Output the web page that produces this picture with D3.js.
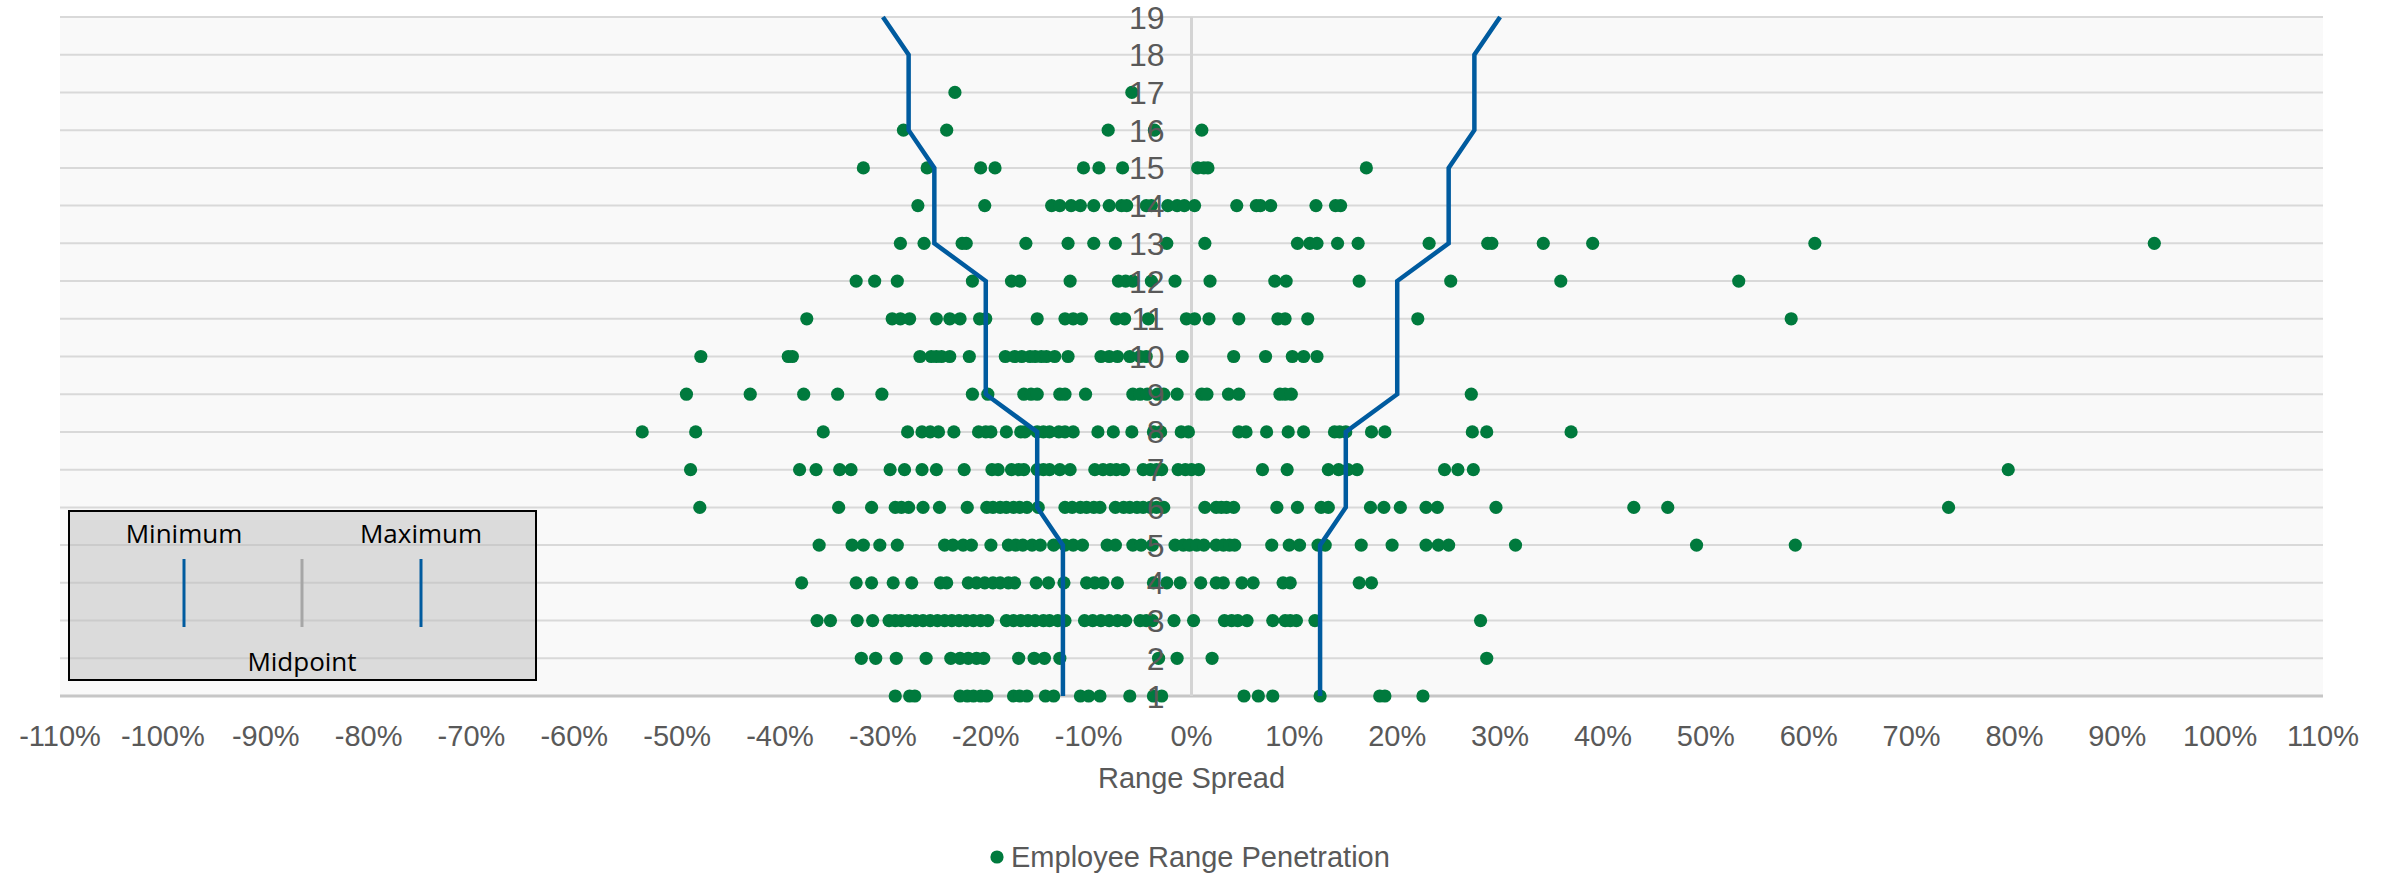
<!DOCTYPE html>
<html>
<head>
<meta charset="utf-8">
<script src="https://cdn.jsdelivr.net/npm/d3@7"></script>
<style>
  body { margin: 0; background: #fff; }
  text { font-family: "Liberation Sans", Arial, sans-serif; }
</style>
</head>
<body>
<div id="chart"></div>
<script>
// grades on the y axis
const grades = [1,2,3,4,5,6,7,8,9,10,11,12,13,14,15,16,17,18,19];

// range minimum / maximum spread per grade (%)
const rangeMin = [-12.5,-12.5,-12.5,-12.5,-12.5,-15,-15,-15,-20,-20,-20,-20,-25,-25,-25,-27.5,-27.5,-27.5,-30];
const rangeMax = [12.5,12.5,12.5,12.5,12.5,15,15,15,20,20,20,20,25,25,25,27.5,27.5,27.5,30];

// employee range penetration (%) by grade
const pen1 = [-28.8,-27.4,-26.9,-22.5,-21.8,-21.2,-20.5,-19.9,-17.3,-16.7,-16.0,-14.2,-13.4,-10.8,-10.0,-8.9,-6.0,-3.7,-2.9,5.1,6.5,7.9,12.5,18.3,18.8,22.5];
const pen2 = [-32.1,-30.7,-28.7,-25.8,-23.4,-22.5,-21.7,-20.9,-20.2,-16.8,-15.3,-14.3,-12.8,-3.2,-1.4,2.0,28.7];
const pen3 = [-36.4,-35.1,-32.5,-31.0,-29.4,-28.8,-28.2,-27.5,-26.8,-26.1,-25.4,-24.7,-24.0,-23.3,-22.6,-21.9,-21.2,-20.5,-19.8,-18.0,-17.3,-16.6,-15.9,-15.2,-14.4,-13.8,-13.0,-12.3,-10.4,-9.6,-8.8,-8.0,-7.2,-6.4,-5.0,-4.4,-3.8,-1.7,0.2,3.2,3.9,4.5,5.4,7.9,9.1,9.6,10.2,12.0,28.1];
const pen4 = [-37.9,-32.6,-31.1,-29.0,-27.2,-24.4,-23.8,-21.7,-20.9,-20.1,-19.3,-18.6,-17.8,-17.2,-15.1,-13.9,-12.4,-10.2,-9.4,-8.6,-7.2,-3.7,-2.4,-1.1,0.9,2.4,3.1,4.9,6.0,8.9,9.6,16.3,17.5];
const pen5 = [-36.2,-33.0,-31.9,-30.3,-28.6,-24.0,-23.2,-22.2,-21.4,-19.5,-17.8,-17.1,-16.4,-15.5,-14.7,-13.4,-12.3,-11.5,-10.6,-8.2,-7.4,-5.7,-4.9,-3.8,-1.6,-0.8,-0.2,0.5,1.2,2.4,3.1,3.7,4.2,7.8,9.5,10.5,12.3,13.0,16.5,19.5,22.8,24.0,25.0,31.5,49.1,58.7];
const pen6 = [-47.8,-34.3,-31.1,-28.8,-28.2,-27.5,-26.1,-24.5,-21.8,-19.9,-19.3,-18.6,-18.0,-17.3,-16.7,-16.0,-14.9,-12.3,-11.6,-10.8,-10.2,-9.5,-8.9,-7.4,-6.6,-6.0,-5.3,-4.7,-4.0,-3.4,-2.7,1.3,2.4,2.9,3.4,4.1,8.3,10.3,12.6,13.3,17.4,18.7,20.3,22.8,23.9,29.6,43.0,46.3,73.6];
const pen7 = [-48.7,-38.1,-36.5,-34.2,-33.1,-29.3,-27.9,-26.2,-24.8,-22.1,-19.4,-18.8,-17.5,-16.8,-16.3,-15.0,-14.4,-13.8,-12.8,-11.8,-9.4,-8.6,-7.9,-7.3,-6.6,-4.7,-4.0,-3.4,-2.9,-1.3,-0.6,0.0,0.7,6.9,9.3,13.3,14.3,15.2,16.1,24.6,25.9,27.4,79.4];
const pen8 = [-53.4,-48.2,-35.8,-27.6,-26.2,-25.4,-24.6,-23.1,-20.7,-20.0,-19.5,-18.0,-16.6,-16.2,-15.0,-14.4,-13.8,-12.9,-12.3,-11.5,-9.1,-7.6,-5.8,-3.7,-3.0,-1.0,-0.3,4.6,5.3,7.3,9.4,10.9,13.9,14.4,15.0,17.5,18.8,27.3,28.7,36.9];
const pen9 = [-49.1,-42.9,-37.7,-34.4,-30.1,-21.3,-19.8,-16.3,-15.6,-15.0,-12.8,-12.3,-10.3,-5.7,-5.0,-4.3,-3.3,-2.7,-1.4,1.0,1.5,3.6,4.6,8.6,9.1,9.7,27.2];
const pen10 = [-47.7,-39.2,-38.8,-26.4,-25.3,-24.8,-24.3,-23.5,-21.6,-18.1,-17.2,-16.5,-15.7,-15.2,-14.6,-14.1,-13.3,-12.0,-8.8,-8.0,-7.2,-6.0,-5.0,-4.4,-0.9,4.1,7.2,9.8,10.9,12.2];
const pen11 = [-37.4,-29.1,-28.3,-27.4,-24.8,-23.5,-22.5,-20.6,-20.0,-15.0,-12.3,-11.5,-10.7,-7.3,-6.5,-4.2,-0.5,0.3,1.7,4.6,8.4,9.1,11.3,22.0,58.3];
const pen12 = [-32.6,-30.8,-28.6,-21.3,-17.5,-16.7,-11.8,-7.1,-6.4,-5.7,-3.9,-1.6,1.8,8.1,9.2,16.3,25.2,35.9,53.2];
const pen13 = [-28.3,-26.0,-22.3,-21.9,-16.1,-12.0,-9.5,-7.4,-2.4,1.3,10.3,11.5,12.2,14.2,16.2,23.1,28.8,29.2,34.2,39.0,60.6,93.6];
const pen14 = [-26.6,-20.1,-13.6,-12.8,-11.7,-10.8,-9.5,-8.0,-6.8,-6.3,-4.4,-3.9,-2.3,-1.4,-0.7,0.3,4.4,6.3,6.7,7.7,12.1,14.0,14.5];
const pen15 = [-31.9,-25.7,-20.5,-19.1,-10.5,-9.0,-6.7,0.6,1.2,1.6,17.0];
const pen16 = [-28.0,-23.8,-8.1,-3.6,1.0];
const pen17 = [-23.0,-5.8];
const penetration = [pen1,pen2,pen3,pen4,pen5,pen6,pen7,pen8,pen9,pen10,pen11,pen12,pen13,pen14,pen15,pen16,pen17];

const xTicks = [-110,-100,-90,-80,-70,-60,-50,-40,-30,-20,-10,0,10,20,30,40,50,60,70,80,90,100,110];

const W = 2400, H = 875;
const plot = {left: 60, right: 2323, top: 17, bottom: 696};
const blue = "#005b9f", green = "#007a3d";

const svg = d3.select("#chart").append("svg")
  .attr("width", W)
  .attr("height", H);

svg.append("rect")
  .attr("width", W).attr("height", H)
  .attr("fill", "#ffffff");

const x = d3.scaleLinear()
  .domain([-110, 110])
  .range([plot.left, plot.right]);

const y = d3.scaleLinear()
  .domain([1, 19])
  .range([plot.bottom, plot.top]);

// plot background
svg.append("rect")
  .attr("x", plot.left)
  .attr("y", plot.top)
  .attr("width", plot.right - plot.left)
  .attr("height", plot.bottom - plot.top)
  .attr("fill", "#f9f9f9");

// horizontal gridlines
svg.append("g")
  .selectAll("line")
  .data(grades)
  .join("line")
  .attr("x1", plot.left)
  .attr("x2", plot.right)
  .attr("y1", function(d) { return y(d); })
  .attr("y2", function(d) { return y(d); })
  .attr("stroke", function(d) { return d === 1 ? "#c6c6c6" : "#d9d9d9"; })
  .attr("stroke-width", function(d) { return d === 1 ? 3 : 2; });

// midpoint line at 0
svg.append("line")
  .attr("x1", x(0)).attr("x2", x(0))
  .attr("y1", y(1)).attr("y2", y(19))
  .attr("stroke", "#d4d4d4")
  .attr("stroke-width", 3);

// flatten penetration points
const points = [];
penetration.forEach(function(arr, i) {
  arr.forEach(function(v) { points.push({grade: grades[i], value: v}); });
});

svg.append("g")
  .selectAll("circle")
  .data(points)
  .join("circle")
  .attr("cx", function(d) { return x(d.value); })
  .attr("cy", function(d) { return y(d.grade); })
  .attr("r", 6.6)
  .attr("fill", green);

// min / max range lines
const line = d3.line()
  .x(function(d) { return x(d.v); })
  .y(function(d) { return y(d.g); });

[rangeMin, rangeMax].forEach(function(series) {
  svg.append("path")
    .datum(series.map(function(v, i) { return {g: grades[i], v: v}; }))
    .attr("d", line)
    .attr("fill", "none")
    .attr("stroke", blue)
    .attr("stroke-width", 4.5)
    .attr("stroke-linejoin", "miter");
});

// y labels sit next to the 0 line
svg.append("g")
  .selectAll("text")
  .data(grades)
  .join("text")
  .attr("x", x(0) - 27)
  .attr("y", function(d) { return y(d); })
  .attr("dy", "0.36em")
  .attr("text-anchor", "end")
  .style("font-size", "32px")
  .attr("fill", "#595959")
  .text(function(d) { return d; });

// x tick labels
svg.append("g")
  .selectAll("text")
  .data(xTicks)
  .join("text")
  .attr("x", function(d) { return x(d); })
  .attr("y", 746)
  .attr("text-anchor", "middle")
  .style("font-size", "29px")
  .attr("fill", "#595959")
  .text(function(d) { return d + "%"; });

svg.append("text")
  .attr("x", x(0))
  .attr("y", 788)
  .attr("text-anchor", "middle")
  .style("font-size", "29px")
  .attr("fill", "#595959")
  .text("Range Spread");

// series legend
svg.append("circle")
  .attr("cx", 997)
  .attr("cy", 857)
  .attr("r", 6.6)
  .attr("fill", green);

svg.append("text")
  .attr("x", 1011)
  .attr("y", 867)
  .style("font-size", "29px")
  .attr("fill", "#595959")
  .text("Employee Range Penetration");

// key box
const key = svg.append("g");
key.append("rect")
  .attr("x", 69).attr("y", 511)
  .attr("width", 467).attr("height", 169)
  .attr("fill", "#bdbdbd")
  .attr("fill-opacity", 0.5)
  .attr("stroke", "#000")
  .attr("stroke-width", 2);

const keyItems = [
  {label: "Minimum", x: 184, color: blue, ty: 543},
  {label: "Midpoint", x: 302, color: "#a6a6a6", ty: 671},
  {label: "Maximum", x: 421, color: blue, ty: 543}
];

key.selectAll("line")
  .data(keyItems)
  .join("line")
  .attr("x1", function(d) { return d.x; })
  .attr("x2", function(d) { return d.x; })
  .attr("y1", 559)
  .attr("y2", 627)
  .attr("stroke", function(d) { return d.color; })
  .attr("stroke-width", 3);

key.selectAll("text")
  .data(keyItems)
  .join("text")
  .attr("x", function(d) { return d.x; })
  .attr("y", function(d) { return d.ty; })
  .attr("text-anchor", "middle")
  .style("font-family", "'Open Sans', sans-serif")
  .style("font-size", "26px")
  .attr("fill", "#000")
  .text(function(d) { return d.label; });
</script>
</body>
</html>
